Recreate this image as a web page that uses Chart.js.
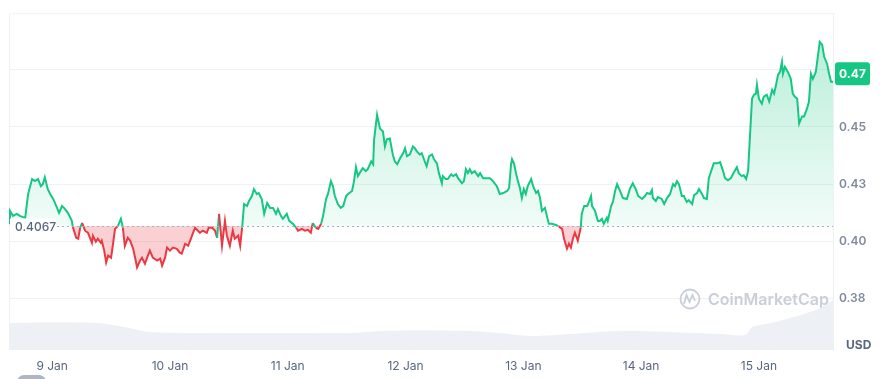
<!DOCTYPE html>
<html>
<head>
<meta charset="utf-8">
<script src="https://cdn.jsdelivr.net/npm/chart.js@4/dist/chart.umd.min.js"></script>
<style>
  html, body { margin: 0; padding: 0; background: #ffffff; }
  #wrap { width: 886px; height: 379px; position: relative; }
</style>
</head>
<body>
<div id="wrap"><canvas id="c"></canvas></div>
<script>
// Hours since 8 Jan 00:00
const times = [
  15.2,15.4,16.0,16.8,17.4,18.5,19.1,19.9,20.5,21.1,21.7,22.1,22.5,23.1,23.6,24.2,25.0,25.4,26.0,26.4,
  27.2,28.0,28.2,28.9,29.3,29.7,30.1,30.7,31.3,32.1,32.3,32.9,33.3,33.9,34.1,34.6,35.0,35.4,36.0,36.4,
  36.8,37.4,38.0,38.4,38.8,39.4,39.9,40.5,40.9,41.3,41.9,42.3,42.9,43.5,43.9,44.5,45.4,46.0,46.4,47.0,
  47.4,48.0,48.6,49.4,50.0,50.4,51.1,51.7,52.1,52.7,53.1,53.7,54.1,54.7,55.5,55.9,56.6,57.2,57.6,58.0,
  58.6,59.2,59.6,60.2,60.8,61.2,61.9,62.3,62.7,63.1,63.7,64.1,64.7,65.1,65.7,66.1,66.7,67.2,67.8,68.4,
  69.0,69.6,70.0,70.6,71.0,71.8,72.3,73.1,73.7,74.1,74.9,75.5,76.1,76.7,77.1,77.7,78.2,78.8,79.2,79.8,
  80.2,80.8,81.2,81.6,82.2,82.8,83.3,83.9,84.3,85.1,85.5,85.9,86.3,86.9,87.3,87.9,88.3,89.0,89.4,89.6,
  90.2,90.4,90.8,91.4,91.8,92.2,92.8,93.4,93.8,94.3,94.9,95.5,95.9,96.3,96.9,97.5,97.9,98.3,98.9,99.3,
  99.9,100.3,100.8,101.4,101.8,102.4,102.8,103.4,103.6,104.2,104.6,105.3,105.7,106.3,106.7,107.5,107.9,108.3,108.7,109.1,
  109.5,110.1,110.8,111.2,111.8,112.6,113.2,113.8,114.6,115.2,115.9,116.7,117.1,117.5,117.7,118.1,118.5,118.9,119.3,119.7,
  120.1,120.5,120.9,121.6,122.0,122.6,123.0,123.4,123.8,124.4,124.8,125.2,125.8,126.5,127.1,127.9,128.3,128.9,129.3,129.7,
  130.1,130.5,130.9,131.1,131.7,131.9,132.4,133.0,133.2,133.8,134.0,134.6,135.2,135.6,136.0,136.4,137.0,137.2,137.9,138.3,
  138.7,139.1,139.7,140.3,141.1,141.7,142.3,142.9,143.4,144.2,144.8,145.2,145.8,146.2,146.4,147.0,147.4,148.2,148.7,149.3,
  149.9,150.5,150.9,151.3,151.7,152.3,152.7,153.3,153.7,154.4,154.8,155.4,155.8,156.4,156.8,157.4,157.8,158.4,158.8,159.5,
  160.1,160.7,161.1,161.7,162.3,162.7,163.5,163.9,164.5,164.9,165.4,165.8,166.2,166.6,167.0,167.4,167.6,168.0,168.6,169.0,
  169.6,170.1,170.7,171.1,171.5,171.9,172.3,172.7,172.9,173.3,173.9,174.5,174.9,175.3,175.8,176.2,176.8,177.2,177.8,178.2,
  178.6,179.0,179.6,180.0,180.4,180.9,181.3,181.9,182.3,182.7,183.1
];
const prices = [
  0.4080,0.4133,0.4111,0.4120,0.4111,0.4102,0.4207,0.4272,0.4263,0.4272,0.4241,0.4250,0.4280,0.4228,0.4207,0.4185,0.4146,0.4124,0.4154,0.4146,
  0.4124,0.4089,0.4063,0.4015,0.4011,0.4059,0.4080,0.4046,0.4037,0.3993,0.4024,0.3998,0.4011,0.3993,0.4002,0.3959,0.3907,0.3937,0.3928,0.3989,
  0.4054,0.4067,0.4098,0.4059,0.3980,0.4015,0.4002,0.3967,0.3928,0.3885,0.3915,0.3928,0.3902,0.3937,0.3959,0.3928,0.3915,0.3924,0.3893,0.3928,
  0.3972,0.3959,0.3972,0.3967,0.3950,0.3946,0.3989,0.3980,0.4002,0.4037,0.4059,0.4046,0.4037,0.4046,0.4037,0.4059,0.4059,0.4046,0.4015,0.4120,
  0.3980,0.4089,0.4024,0.3980,0.4046,0.4011,0.4024,0.3980,0.4059,0.4163,0.4154,0.4176,0.4198,0.4228,0.4207,0.4211,0.4185,0.4120,0.4167,0.4146,
  0.4146,0.4120,0.4141,0.4111,0.4098,0.4120,0.4089,0.4076,0.4059,0.4046,0.4054,0.4046,0.4050,0.4037,0.4080,0.4059,0.4054,0.4076,0.4111,0.4185,
  0.4207,0.4263,0.4241,0.4198,0.4163,0.4146,0.4154,0.4198,0.4207,0.4220,0.4263,0.4324,0.4285,0.4307,0.4320,0.4307,0.4315,0.4350,0.4337,0.4446,
  0.4554,0.4533,0.4493,0.4480,0.4415,0.4446,0.4450,0.4380,0.4350,0.4337,0.4363,0.4385,0.4407,0.4372,0.4380,0.4415,0.4407,0.4393,0.4380,0.4385,
  0.4350,0.4328,0.4372,0.4380,0.4359,0.4341,0.4298,0.4254,0.4285,0.4272,0.4272,0.4293,0.4285,0.4293,0.4276,0.4254,0.4263,0.4315,0.4298,0.4315,
  0.4298,0.4307,0.4285,0.4298,0.4276,0.4276,0.4276,0.4263,0.4241,0.4207,0.4211,0.4220,0.4233,0.4337,0.4359,0.4341,0.4298,0.4263,0.4233,0.4189,
  0.4228,0.4207,0.4241,0.4272,0.4241,0.4211,0.4220,0.4189,0.4133,0.4146,0.4111,0.4076,0.4076,0.4072,0.4067,0.4054,0.4011,0.3967,0.3989,0.3972,
  0.4011,0.4037,0.4015,0.4002,0.4059,0.4120,0.4154,0.4154,0.4163,0.4198,0.4154,0.4133,0.4089,0.4089,0.4098,0.4076,0.4102,0.4089,0.4154,0.4176,
  0.4220,0.4250,0.4220,0.4189,0.4185,0.4228,0.4254,0.4228,0.4198,0.4185,0.4198,0.4211,0.4207,0.4224,0.4189,0.4176,0.4193,0.4185,0.4163,0.4189,
  0.4207,0.4250,0.4241,0.4263,0.4250,0.4198,0.4198,0.4172,0.4180,0.4163,0.4202,0.4211,0.4228,0.4207,0.4189,0.4185,0.4276,0.4315,0.4341,0.4341,
  0.4346,0.4307,0.4276,0.4267,0.4276,0.4293,0.4324,0.4298,0.4285,0.4289,0.4272,0.4307,0.4467,0.4624,0.4641,0.4646,0.4685,0.4624,0.4602,0.4633,
  0.4641,0.4611,0.4663,0.4646,0.4685,0.4728,0.4741,0.4785,0.4733,0.4763,0.4741,0.4711,0.4646,0.4633,0.4624,0.4515,0.4546,0.4546,0.4580,0.4611,
  0.4733,0.4711,0.4741,0.4807,0.4872,0.4859,0.4807,0.4776,0.4733,0.4698,0.4698
];
// 24h volume (millions USD), sampled coarsely
const volTimes = [15.2,23.6,33.7,39.9,43.9,54.1,64.3,74.5,84.7,90.8,98.9,109.1,115.2,121.4,129.5,139.7,149.9,160.1,165.2,166.6,170.3,176.4,180.4,183.1];
const volumes  = [540,560,540,440,360,340,340,340,340,380,400,380,340,280,320,380,360,320,300,460,540,700,840,1000];

const dateTicks  = [24,48,72,96,120,144,168];
const dateLabels = ['9 Jan','10 Jan','11 Jan','12 Jan','13 Jan','14 Jan','15 Jan'];
const tickValues = [0.375,0.400,0.425,0.450,0.475];
const tickLabels = ['0.38','0.40','0.43','0.45',''];
const baseline = 0.4067;
const baselineLabel = '0.4067';
const tagPrice = 0.4733;
const tagLabel = '0.47';
const currency = 'USD';

const GREEN = '#16c784';
const RED = '#ea3943';
const FONT = 'Inter, "Noto Sans", sans-serif';

const pricePoints = times.map((t, i) => ({x: t, y: prices[i]}));
const volPoints = volTimes.map((t, i) => ({x: t, y: volumes[i]}));

const decor = {
  id: 'decor',
  beforeDatasetsDraw(chart) {
    const {ctx, chartArea: a} = chart;
    ctx.save();
    ctx.strokeStyle = '#eff2f5';
    ctx.lineWidth = 1;
    ctx.beginPath();
    ctx.moveTo(a.left + 0.5, a.bottom);
    ctx.lineTo(a.left + 0.5, a.top + 0.5);
    ctx.lineTo(a.right, a.top + 0.5);
    ctx.stroke();
    // watermark
    const wc = '#c9ced8';
    ctx.strokeStyle = wc;
    ctx.lineWidth = 1.8;
    ctx.beginPath();
    ctx.arc(690, 299, 9.5, 0, Math.PI * 2);
    ctx.stroke();
    ctx.beginPath();
    ctx.moveTo(684, 304);
    ctx.lineTo(686.5, 295);
    ctx.lineTo(689.5, 302);
    ctx.lineTo(692.5, 295);
    ctx.lineTo(695, 301);
    ctx.stroke();
    ctx.fillStyle = wc;
    ctx.font = '600 16px ' + FONT;
    ctx.textBaseline = 'middle';
    ctx.textAlign = 'left';
    ctx.fillText('CoinMarketCap', 708, 300);
    ctx.restore();
  },
  afterDatasetsDraw(chart) {
    const {ctx, chartArea: a, scales} = chart;
    const y = scales.y;
    const by = Math.round(y.getPixelForValue(baseline)) + 0.5;
    ctx.save();
    // dotted baseline
    ctx.strokeStyle = '#a6b0c3';
    ctx.lineWidth = 1;
    ctx.setLineDash([2, 3]);
    ctx.beginPath();
    ctx.moveTo(57, by);
    ctx.lineTo(a.right, by);
    ctx.stroke();
    ctx.setLineDash([]);
    // baseline label
    ctx.fillStyle = '#ffffff';
    ctx.fillRect(a.left + 1, by - 8, 46, 16);
    ctx.fillStyle = '#58667e';
    ctx.font = '500 12px ' + FONT;
    ctx.textAlign = 'left';
    ctx.textBaseline = 'middle';
    ctx.fillText(baselineLabel, 15, by + 0.5);
    // price tag
    const ty = y.getPixelForValue(tagPrice);
    ctx.fillStyle = GREEN;
    ctx.beginPath();
    ctx.roundRect(835, ty - 11.5, 35, 23, 3);
    ctx.fill();
    ctx.fillStyle = '#ffffff';
    ctx.font = '700 12px ' + FONT;
    ctx.textAlign = 'center';
    ctx.fillText(tagLabel, 852.5, ty + 0.5);
    // currency
    ctx.fillStyle = '#58667e';
    ctx.font = '700 12px ' + FONT;
    ctx.textAlign = 'left';
    ctx.fillText(currency, 846, 345);
    // partial button bottom-left
    ctx.fillStyle = '#aeb6c6';
    ctx.beginPath();
    ctx.roundRect(17, 375, 29, 14, 7);
    ctx.fill();
    ctx.restore();
  }
};

new Chart(document.getElementById('c'), {
  type: 'line',
  data: {
    datasets: [
      {
        data: pricePoints,
        yAxisID: 'y',
        order: 1,
        borderWidth: 2,
        pointRadius: 0,
        tension: 0,
        borderColor: GREEN,
        segment: {
          borderColor: c => ((c.p0.parsed.y + c.p1.parsed.y) / 2 >= baseline ? GREEN : RED)
        },
        backgroundColor: c => {
          const ch = c.chart;
          const area = ch.chartArea;
          if (!area || !ch.scales.y) return 'rgba(22,199,132,0.15)';
          const y0 = ch.scales.y.getPixelForValue(0.49);
          const y1 = ch.scales.y.getPixelForValue(baseline);
          const g = ch.ctx.createLinearGradient(0, y0, 0, y1);
          g.addColorStop(0, 'rgba(22,199,132,0.30)');
          g.addColorStop(1, 'rgba(22,199,132,0.06)');
          return g;
        },
        fill: { value: baseline, below: 'rgba(234,57,67,0.24)' }
      },
      {
        data: volPoints,
        yAxisID: 'y2',
        order: 2,
        borderWidth: 0,
        pointRadius: 0,
        tension: 0.3,
        backgroundColor: '#edf0f4',
        fill: 'origin'
      }
    ]
  },
  options: {
    responsive: true,
    maintainAspectRatio: false,
    animation: false,
    events: [],
    layout: { padding: { left: 9, top: 11, right: 0, bottom: 0 } },
    plugins: { legend: { display: false }, tooltip: { enabled: false } },
    scales: {
      x: {
        type: 'linear',
        min: 15.2,
        max: 183.1,
        grid: { display: false, drawTicks: false },
        border: { display: false },
        afterBuildTicks: s => { s.ticks = dateTicks.map(v => ({ value: v })); },
        afterFit: s => { s.height = 29; },
        ticks: {
          autoSkip: false,
          maxRotation: 0,
          padding: 9,
          color: '#58667e',
          font: { family: FONT, size: 12 },
          callback: (v, i) => dateLabels[i]
        }
      },
      y: {
        position: 'right',
        min: 0.3524,
        max: 0.4998,
        grid: { color: '#eff2f5', drawTicks: false },
        border: { display: true, color: '#eff2f5' },
        afterBuildTicks: s => { s.ticks = tickValues.map(v => ({ value: v })); },
        afterFit: s => { s.width = 53; },
        ticks: {
          autoSkip: false,
          padding: 6,
          color: '#808a9d',
          font: { family: FONT, size: 12, weight: '600' },
          callback: (v, i) => tickLabels[i]
        }
      },
      y2: { display: false, min: 0, max: 6780 }
    }
  },
  plugins: [decor]
});
</script>
</body>
</html>
